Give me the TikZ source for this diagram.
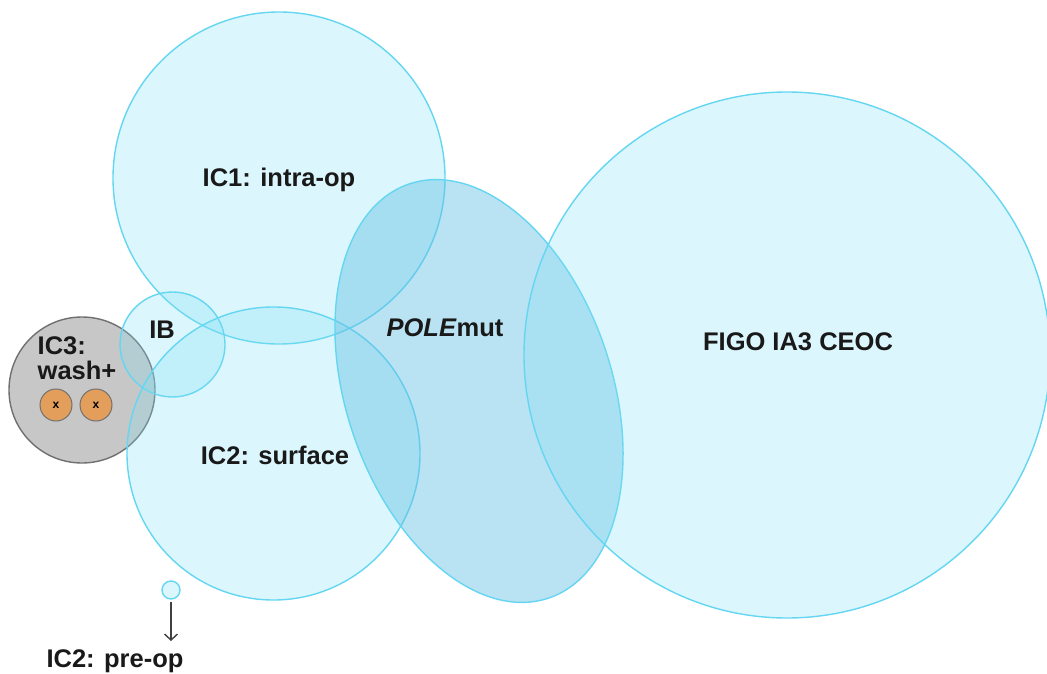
\documentclass[tikz,border=0pt]{standalone}
\usepackage{fontspec}
\setmainfont{Liberation Sans}
\usetikzlibrary{arrows.meta,shapes.geometric}
\definecolor{SetFill}{RGB}{127,223,244}
\definecolor{SetLine}{RGB}{100,214,242}
\definecolor{PoleFill}{RGB}{100,191,228}
\definecolor{WashFill}{RGB}{178,178,178}
\definecolor{WashLine}{RGB}{112,112,112}
\definecolor{DotFill}{RGB}{227,158,92}
\tikzset{
  SetStyle/.style = {circle, draw=SetLine, line width=1.4pt, fill=SetFill,
                     fill opacity=0.28, inner sep=0pt},
  PoleStyle/.style = {ellipse, draw=SetLine, line width=1.4pt, fill=PoleFill,
                      fill opacity=0.45, inner sep=0pt},
  WashStyle/.style = {circle, draw=WashLine, line width=1.4pt, fill=WashFill,
                      fill opacity=0.72, inner sep=0pt},
  DotStyle/.style = {circle, draw=WashLine, line width=1pt, fill=DotFill,
                     inner sep=0pt, minimum size=32pt,
                     font = \fontsize{12}{12}\selectfont\bfseries},
  LabelStyle/.style = {text = black!90, inner sep=0pt,
                       font = \fontsize{25.5}{25}\selectfont\bfseries},
  ArrowStyle/.style = {draw=black!75, line width=1.4pt,
                       -{Straight Barb[length=6pt,width=13pt]}} }

\begin{document}
\begin{tikzpicture}[x=1pt,y=-1pt]
  \useasboundingbox (0,0) rectangle (1047,674);
  % sets
  \node[WashStyle, minimum size=146pt] (IC3) at (82,390) {};
  \node[SetStyle, minimum size=332pt] (IC1) at (279,178) {};
  \node[SetStyle, minimum size=105pt] (IB) at (172.5,344.5) {};
  \node[SetStyle, minimum size=293pt] (IC2) at (273.5,453.5) {};
  \node[PoleStyle, minimum width=266pt, minimum height=437pt,
        rotate=18.6] (POLE) at (479,391) {};
  \node[SetStyle, minimum size=526pt] (FIGO) at (787,355) {};
  \node[DotStyle] (dotA) at (56,405) {x};
  \node[DotStyle] (dotB) at (96,405) {x};
  \node[SetStyle, minimum size=18pt] (pre) at (171,590) {};
  % labels
  \node[LabelStyle] (lIC1) at (279,180) {IC1: intra-op};
  \node[LabelStyle] (lIB) at (162,330) {IB};
  \node[LabelStyle, align=left] (lIC3) at (77,358) {IC3:\\wash+};
  \node[LabelStyle] (lIC2) at (275,455) {IC2: surface};
  \node[LabelStyle] (lPOLE) at (445,328) {\textit{POLE}mut};
  \node[LabelStyle] (lFIGO) at (798,342) {FIGO IA3 CEOC};
  \node[LabelStyle, anchor=base] (preop) at (115,667) {IC2: pre-op};
  \draw[ArrowStyle, shorten <=2pt, shorten >=8pt] (pre) -- (pre |- preop.north);
\end{tikzpicture}
\end{document}
